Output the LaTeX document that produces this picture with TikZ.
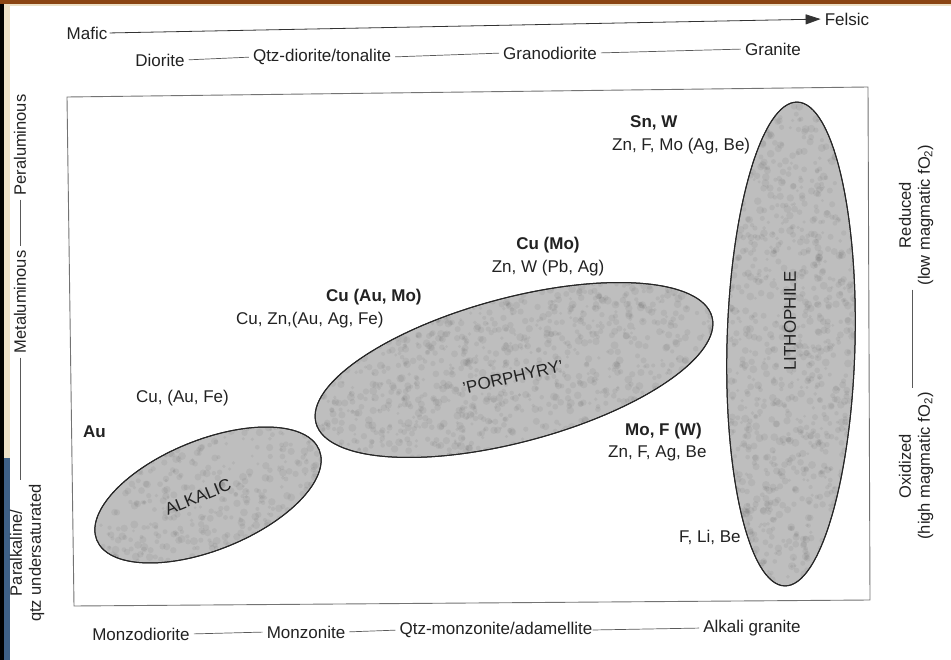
\documentclass[tikz,border=0pt]{standalone}
\usepackage{fontspec}
\setmainfont{Liberation Sans}
\usetikzlibrary{arrows.meta,shapes.geometric}
\definecolor{rim}{RGB}{139,69,19}
\definecolor{sand}{RGB}{236,224,198}
\definecolor{slate}{RGB}{62,96,134}
\definecolor{lobe}{RGB}{190,190,190}
\definecolor{ink}{RGB}{34,34,34}
\begin{document}
\begin{tikzpicture}[x=1pt,y=-1pt,
  lbl/.style={font=\fontsize{17}{19}\selectfont, inner sep=0pt, text=ink},
  bld/.style={font=\fontsize{17}{19}\selectfont\bfseries, inner sep=0pt, text=ink},
  axl/.style={font=\fontsize{16.5}{19}\selectfont, inner sep=0pt, text=ink, align=center},
  link/.style={draw=black!65, line width=0.7pt, shorten <=4pt, shorten >=4pt},
  field/.style={ellipse, fill=lobe, draw=black!85, line width=1pt, inner sep=0pt},
  speck/.style={fill=black, opacity=0.05}]
\path[use as bounding box] (0,0) rectangle (951,660);
\fill[white] (0,0) rectangle (951,660);
% page edge trim
\fill[rim] (0,0) rectangle (951,4);
\fill[sand] (0,4) rectangle (951,6);
\fill[black] (0,4) rectangle (3.5,660);
\fill[sand] (3.5,6) rectangle (10,458);
\fill[slate] (3.5,458) rectangle (10,660);

% plot frame
\draw[black!55, line width=0.9pt] (67,97) -- (868,87) -- (870,600) -- (74,606) -- cycle;

% deposit fields
\node[field, rotate=22, minimum width=240, minimum height=110] (alk) at (208,495) {};
\node[field, rotate=15, minimum width=410, minimum height=144] (por) at (514,370) {};
\node[field, rotate=-1.5, minimum width=128, minimum height=484] (lit) at (791,344) {};

% mottled grain inside the fields
\pgfmathsetseed{7}
\begin{scope}
  \clip[rotate around={22:(208,495)}] (208,495) ellipse [x radius=119, y radius=54];
  \foreach \i in {1,...,550} {\fill[speck] (208+rand*120, 495+rand*70) circle [radius=1.5pt+rnd*2.5pt];}
\end{scope}
\begin{scope}
  \clip[rotate around={15:(514,370)}] (514,370) ellipse [x radius=204, y radius=71];
  \foreach \i in {1,...,1300} {\fill[speck] (514+rand*205, 370+rand*90) circle [radius=1.5pt+rnd*2.5pt];}
\end{scope}
\begin{scope}
  \clip[rotate around={-1.5:(791,344)}] (791,344) ellipse [x radius=63, y radius=241];
  \foreach \i in {1,...,1200} {\fill[speck] (791+rand*70, 344+rand*242) circle [radius=1.5pt+rnd*2.5pt];}
\end{scope}
\draw[black!85, line width=1pt, rotate around={22:(208,495)}] (208,495) ellipse [x radius=120, y radius=55];
\draw[black!85, line width=1pt, rotate around={15:(514,370)}] (514,370) ellipse [x radius=205, y radius=72];
\draw[black!85, line width=1pt, rotate around={-1.5:(791,344)}] (791,344) ellipse [x radius=64, y radius=242];

\node[lbl, rotate=22] (alkname) at (198,497) {ALKALIC};
\node[lbl, rotate=13] (porname) at (513,377) {'PORPHYRY'};
\node[lbl, rotate=90] (litname) at (790,321) {LITHOPHILE};

% metal associations
\node[bld, anchor=west] (snw) at (630,123) {Sn, W};
\node[lbl, anchor=west] (snw2) at (612,146) {Zn, F, Mo (Ag, Be)};
\node[bld] (cumo) at (548,245) {Cu (Mo)};
\node[lbl] (cumo2) at (548,268) {Zn, W (Pb, Ag)};
\node[bld, anchor=west] (cuaumo) at (326,297) {Cu (Au, Mo)};
\node[lbl, anchor=west] (cuaumo2) at (236,320) {Cu, Zn,(Au, Ag, Fe)};
\node[lbl, anchor=west] (cuaufe) at (136,398) {Cu, (Au, Fe)};
\node[bld, anchor=west] (au) at (83,432) {Au};
\node[bld, anchor=west] (mofw) at (625,431) {Mo, F (W)};
\node[lbl, anchor=west] (mofw2) at (608,453) {Zn, F, Ag, Be};
\node[lbl, anchor=west] (flibe) at (679,537) {F, Li, Be};

% top axis
\node[lbl] (mafic) at (87,33) {Mafic};
\node[lbl] (felsic) at (847,19) {Felsic};
\draw[black!80, line width=0.8pt, shorten <=2pt, shorten >=4pt, -{Triangle[length=15pt,width=10pt]}] (mafic.east) -- (felsic.west);
\node[lbl] (dio) at (160,60) {Diorite};
\node[lbl] (qdt) at (322,57) {Qtz-diorite/tonalite};
\node[lbl] (gdi) at (550,53) {Granodiorite};
\node[lbl] (gra) at (773,49) {Granite};
\draw[link] (dio.east) -- (qdt.west);
\draw[link] (qdt.east) -- (gdi.west);
\draw[link] (gdi.east) -- (gra.west);

% bottom axis
\node[lbl] (mzd) at (141,634) {Monzodiorite};
\node[lbl] (mzn) at (306,632) {Monzonite};
\node[lbl] (qmz) at (496,630) {Qtz-monzonite/adamellite};
\node[lbl] (akg) at (752,628) {Alkali granite};
\draw[link] (mzd.east) -- (mzn.west);
\draw[link] (mzn.east) -- (qmz.west);
\draw[link, shorten <=0pt] (qmz.east) -- (akg.west);

% left axis
\node[axl, rotate=90] (per) at (20,145) {Peraluminous};
\node[axl, rotate=90] (met) at (20,302) {Metaluminous};
\node[axl, rotate=90] (pak) at (27,553) {Paralkaline/\\qtz undersaturated};
\draw[link] (per.west) -- (met.east);
\coordinate (pakTop) at (met.west |- pak.east);
\draw[link] (met.west) -- (pakTop);

% right axis
\node[axl, rotate=90] (red) at (916,215) {Reduced\\(low magmatic fO\textsubscript{2})};
\node[axl, rotate=90] (oxi) at (916,466) {Oxidized\\(high magmatic fO\textsubscript{2})};
\draw[link] ([xshift=-4pt]red.west) -- ([xshift=-4pt]oxi.east);
\end{tikzpicture}
\end{document}
